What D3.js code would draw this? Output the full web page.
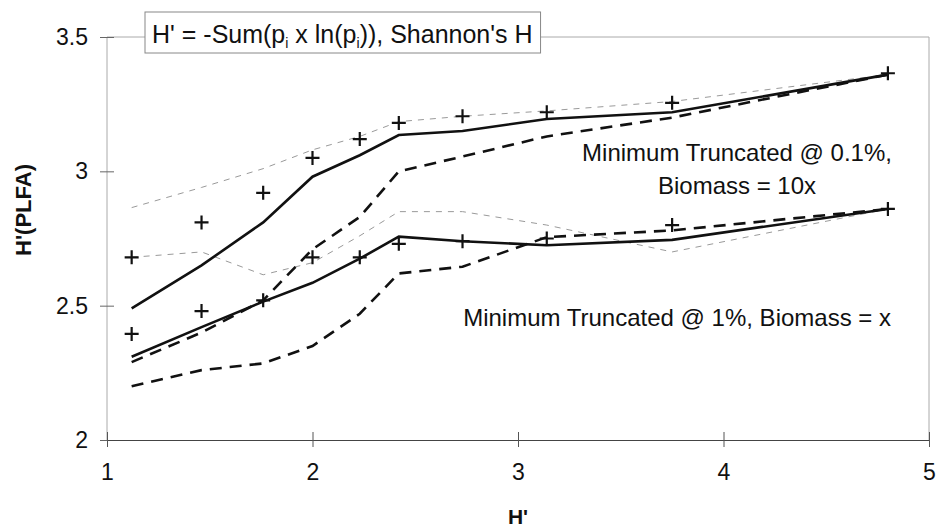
<!DOCTYPE html>
<meta charset="utf-8">
<style>
  body { margin: 0; background: #fff; }
  text { font-family: "Liberation Sans", Arial, sans-serif; fill: #111; }
  .note { font-size: 24px; }
</style>
<svg width="936" height="529"></svg>
<script src="https://d3js.org/d3.v7.min.js"></script>
<script>
// x positions (H') shared by all series
var xVals = [1.12, 1.46, 1.76, 2.0, 2.23, 2.42, 2.73, 3.14, 3.75, 4.8];

// Minimum truncated @ 0.1%, biomass = 10x
var hiSolid  = [2.49, 2.65, 2.81, 2.98, 3.06, 3.135, 3.15, 3.195, 3.22, 3.36];
var hiDashed = [2.29, 2.40, 2.52, 2.71, 2.83, 3.00, 3.055, 3.13, 3.20, 3.36];
var hiThin   = [2.865, 2.94, 3.01, 3.08, 3.13, 3.185, 3.205, 3.225, 3.26, 3.36];
var hiPlus   = [2.68, 2.81, 2.92, 3.05, 3.12, 3.18, 3.205, 3.22, 3.255, 3.365];

// Minimum truncated @ 1%, biomass = x
var loSolid  = [2.31, 2.42, 2.515, 2.585, 2.675, 2.757, 2.74, 2.725, 2.745, 2.86];
var loDashed = [2.20, 2.26, 2.285, 2.35, 2.47, 2.62, 2.645, 2.755, 2.78, 2.86];
var loThin   = [2.68, 2.70, 2.615, 2.66, 2.76, 2.85, 2.85, 2.80, 2.70, 2.86];
var loPlus   = [2.395, 2.48, 2.52, 2.68, 2.68, 2.73, 2.74, 2.75, 2.80, 2.86];

var xTicks = [1, 2, 3, 4, 5];
var yTicks = [2, 2.5, 3, 3.5];

var svg = d3.select("svg");
var x = d3.scaleLinear().domain([1, 5]).range([107, 929]);
var y = d3.scaleLinear().domain([2, 3.5]).range([440, 37]);

// plot frame
svg.append("line").attr("x1", x(1)).attr("x2", x(1)).attr("y1", y(3.5)).attr("y2", y(2))
    .attr("stroke", "#aaa").attr("stroke-width", 1);
svg.append("line").attr("x1", x(5)).attr("x2", x(5)).attr("y1", y(3.5)).attr("y2", y(2))
    .attr("stroke", "#aaa").attr("stroke-width", 1);
svg.append("line").attr("x1", x(1)).attr("x2", x(5)).attr("y1", y(3.5)).attr("y2", y(3.5))
    .attr("stroke", "#aaa").attr("stroke-width", 1);

// axes
var yAxis = d3.axisLeft(y).tickValues(yTicks).tickSize(0).tickPadding(19)
    .tickFormat(d3.format("~g"));
var gy = svg.append("g").attr("transform", "translate(" + x(1) + ",0)").call(yAxis);
gy.select(".domain").remove();
gy.selectAll(".tick").append("line").attr("x1", -7).attr("x2", 7).attr("stroke", "#666");

var xAxis = d3.axisBottom(x).tickValues(xTicks).tickSize(0).tickPadding(24)
    .tickFormat(d3.format("d"));
var gx = svg.append("g").attr("transform", "translate(0," + y(2) + ")").call(xAxis);
gx.select(".domain").attr("stroke", "#444").attr("stroke-width", 1.2);
gx.selectAll(".tick").append("line").attr("y1", -8).attr("y2", 7).attr("stroke", "#555");
svg.selectAll("g[font-family]").attr("font-family", null).attr("font-size", null);
svg.selectAll(".tick text").attr("fill", "#111").style("font-size", "23px");

// axis titles
svg.append("text").attr("x", (x(1) + x(5)) / 2).attr("y", 524)
    .attr("text-anchor", "middle").style("font-size", "21px").style("font-weight", "bold")
    .text("H'");
svg.append("text").attr("transform", "translate(31,210) rotate(-90)")
    .attr("text-anchor", "middle").style("font-size", "22px").style("font-weight", "bold")
    .text("H'(PLFA)");

// series
var line = d3.line().x(function(d) { return x(d[0]); }).y(function(d) { return y(d[1]); });
function pairs(vals) { return xVals.map(function(v, i) { return [v, vals[i]]; }); }

var styles = [
  { vals: hiThin,   stroke: "#9a9a9a", width: 1,   dash: "6,6" },
  { vals: loThin,   stroke: "#9a9a9a", width: 1,   dash: "6,6" },
  { vals: hiDashed, stroke: "#111",    width: 2.6, dash: "12,8" },
  { vals: loDashed, stroke: "#111",    width: 2.6, dash: "12,8" },
  { vals: hiSolid,  stroke: "#111",    width: 2.6, dash: null },
  { vals: loSolid,  stroke: "#111",    width: 2.6, dash: null }
];
svg.append("g").selectAll("path").data(styles).join("path")
    .attr("d", function(s) { return line(pairs(s.vals)); })
    .attr("fill", "none")
    .attr("stroke", function(s) { return s.stroke; })
    .attr("stroke-width", function(s) { return s.width; })
    .attr("stroke-dasharray", function(s) { return s.dash; });

// plus markers
var crossPath = "M-7,0H7M0,-7V7";
svg.append("g").selectAll("path").data(pairs(hiPlus).concat(pairs(loPlus))).join("path")
    .attr("transform", function(d) { return "translate(" + x(d[0]) + "," + y(d[1]) + ")"; })
    .attr("d", crossPath)
    .attr("stroke", "#111").attr("stroke-width", 2.2).attr("fill", "none");

// annotations
var n1 = svg.append("text").attr("class", "note").attr("x", 737).attr("y", 161)
    .attr("text-anchor", "middle");
n1.append("tspan").attr("x", 737).text("Minimum Truncated @ 0.1%,");
n1.append("tspan").attr("x", 737).attr("dy", 33).text("Biomass = 10x");
svg.append("text").attr("class", "note").attr("x", 891).attr("y", 326)
    .attr("text-anchor", "end").text("Minimum Truncated @ 1%, Biomass = x");

// formula box
var box = svg.append("g");
var rect = box.append("rect").attr("fill", "#fff").attr("stroke", "#888").attr("stroke-width", 1);
var t = box.append("text").attr("x", 152).attr("y", 43).style("font-size", "25px");
t.append("tspan").text("H' = -Sum(p");
t.append("tspan").attr("dy", 5).style("font-size", "14px").text("i");
t.append("tspan").attr("dy", -5).text(" x ln(p");
t.append("tspan").attr("dy", 5).style("font-size", "14px").text("i");
t.append("tspan").attr("dy", -5).text(")), Shannon's H");
var bb = t.node().getBBox();
rect.attr("x", 145).attr("y", 12).attr("width", bb.x + bb.width + 8 - 145).attr("height", 41);
</script>
